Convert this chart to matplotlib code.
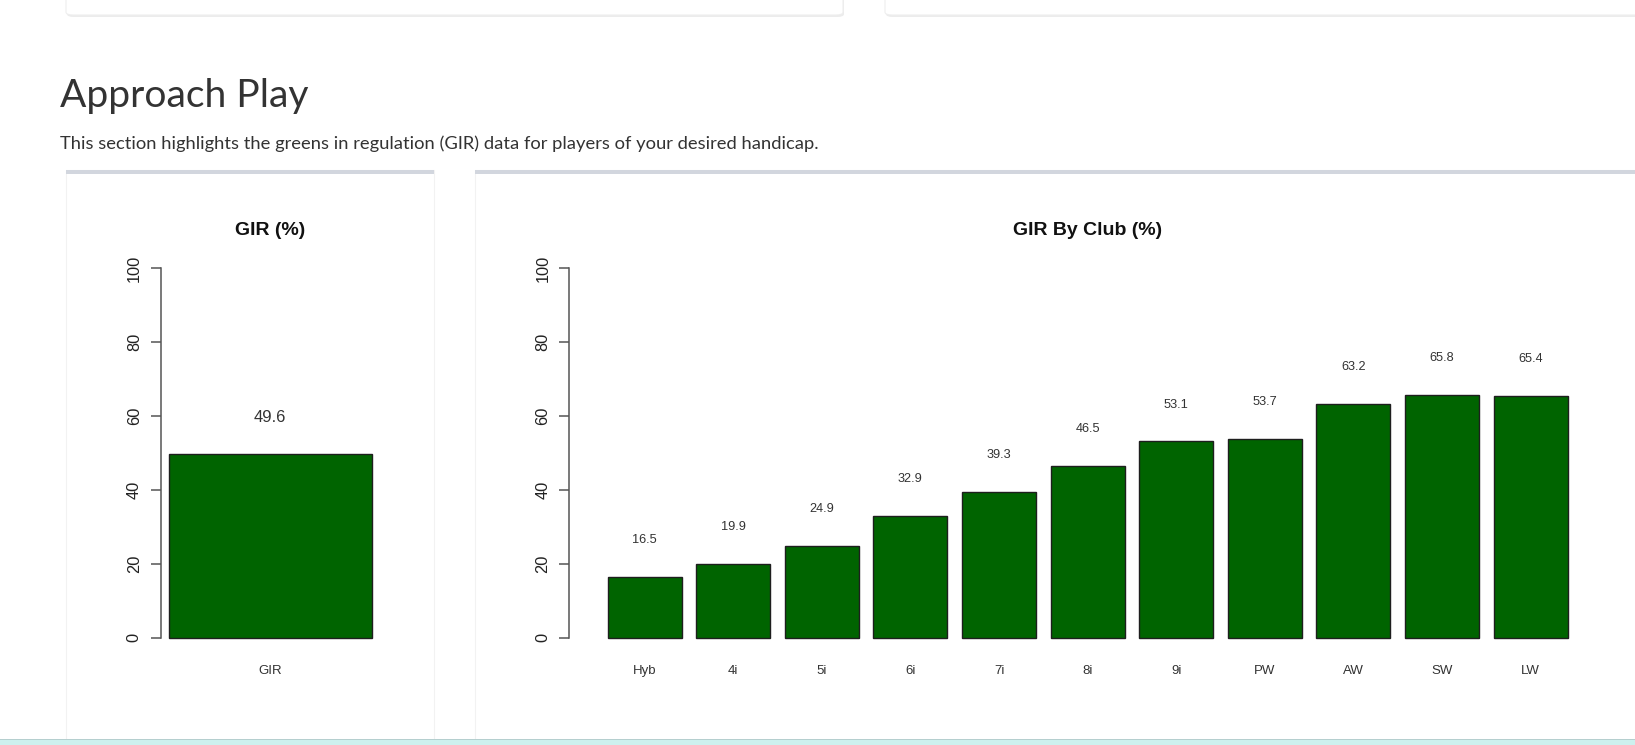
import matplotlib
matplotlib.use('Agg')
import matplotlib.pyplot as plt
from matplotlib.patches import Rectangle, FancyBboxPatch

# Canvas size in pixels
W, H = 1635, 745

# Data
overall_labels = ['GIR']
overall_gir = [49.6]
clubs = ['Hyb', '4i', '5i', '6i', '7i', '8i', '9i', 'PW', 'AW', 'SW', 'LW']
club_gir = [16.5, 19.9, 24.9, 32.9, 39.3, 46.5, 53.1, 53.7, 63.2, 65.8, 65.4]
y_ticks = [0, 20, 40, 60, 80, 100]

# Page colours
TEXT = '#333333'
BAR_GREEN = '#006400'
CARD_EDGE = '#eeeeee'
CARD_TOP = '#d2d6de'
FOOTER = '#cdf0ee'

plt.rcParams['font.family'] = ['Liberation Sans', 'DejaVu Sans']

fig = plt.figure(figsize=(W / 100, H / 100), dpi=100)
fig.patch.set_facecolor('white')


def rect_px(x0, y0, x1, y1):
    # top-left pixel box -> figure fraction [left, bottom, width, height]
    return [x0 / W, 1 - y1 / H, (x1 - x0) / W, (y1 - y0) / H]


def add_box(x0, y0, x1, y1, **kw):
    l, b, w, h = rect_px(x0, y0, x1, y1)
    fig.add_artist(Rectangle((l, b), w, h, transform=fig.transFigure, zorder=-5, **kw))


def add_round(x0, y0, x1, y1, **kw):
    l, b, w, h = rect_px(x0, y0, x1, y1)
    fig.add_artist(FancyBboxPatch((l, b), w, h, transform=fig.transFigure, zorder=-5,
                                  boxstyle='round,pad=0,rounding_size=0.004', **kw))


def fit_text(x, y, s, width_px, **kw):
    t = fig.text(x / W, 1 - y / H, s, **kw)
    r = fig.canvas.get_renderer()
    w = t.get_window_extent(r).width
    t.set_fontsize(t.get_fontsize() * width_px / w)
    return t


# --- page decorations ---
# cards above (cut off by the top edge), with a faint shadow
add_round(67, -30, 844, 17, facecolor='#ececec', edgecolor='none')
add_round(66, -30, 843, 15, facecolor='white', edgecolor=CARD_EDGE, linewidth=0.8)
add_round(886, -30, 1660, 17, facecolor='#ececec', edgecolor='none')
add_round(885, -30, 1660, 15, facecolor='white', edgecolor=CARD_EDGE, linewidth=0.8)

# chart cards
add_box(66, 170, 434, 745, facecolor='white', edgecolor='#f2f2f2', linewidth=0.8)
add_box(66, 170, 434, 174, facecolor=CARD_TOP, edgecolor='none')
add_box(475, 170, 1640, 745, facecolor='white', edgecolor='#f2f2f2', linewidth=0.8)
add_box(475, 170, 1640, 174, facecolor=CARD_TOP, edgecolor='none')

# footer strip
add_box(0, 739, W, 746, facecolor=FOOTER, edgecolor='none')
add_box(0, 739, W, 740, facecolor='#b5cfcf', edgecolor='none')

# heading and intro line
fit_text(60, 107, 'Approach Play', 248, fontsize=28, color=TEXT,
         family=['Lato', 'DejaVu Sans'], va='baseline')
fit_text(60, 149, 'This section highlights the greens in regulation (GIR) data '
         'for players of your desired handicap.', 754, fontsize=12, color=TEXT,
         family=['Lato', 'DejaVu Sans'], va='baseline')

# --- bar charts ---
Y_TOP, Y_BOT = 253.5, 652.3  # pixel rows of the y range -4..104


def bar_panel(x0, x1, labels, values, title, value_size):
    ax = fig.add_axes(rect_px(x0, Y_TOP, x1, Y_BOT))
    ax.set_zorder(5)
    ax.set_facecolor('none')
    n = len(values)
    xs = [0.7 + 1.2 * i for i in range(n)]
    ax.bar(xs, values, width=1.0, color=BAR_GREEN, edgecolor='#1e1e1e', linewidth=1.0)
    for x, v in zip(xs, values):
        ax.text(x, v + 10, f'{v:.1f}', ha='center', va='center',
                fontsize=value_size, color=TEXT)
    span = 1.2 * n - 0.2
    ax.set_xlim(0.2 - 0.04 * span, 1.2 * n + 0.04 * span)
    ax.set_ylim(-4, 104)
    for side in ['top', 'right', 'bottom']:
        ax.spines[side].set_visible(False)
    ax.spines['left'].set_bounds(0, 100)
    ax.spines['left'].set_color('#555555')
    ax.spines['left'].set_linewidth(1.1)
    ax.set_yticks(y_ticks)
    ax.set_yticklabels([str(t) for t in y_ticks], rotation=90, va='center')
    ax.tick_params(axis='y', length=7.5, width=1.1, color='#555555',
                   labelsize=11.8, labelcolor='#222222', pad=6)
    ax.set_xticks(xs)
    ax.set_xticklabels(labels)
    ax.tick_params(axis='x', length=0, labelsize=9.5, labelcolor=TEXT, pad=9)
    ax.set_title(title, fontsize=14, fontweight='bold', color='#111111', pad=13)
    return ax


bar_panel(160.6, 379.8, overall_labels, overall_gir, 'GIR (%)', 12)
bar_panel(569.3, 1605.9, clubs, club_gir, 'GIR By Club (%)', 9.2)

fig.savefig('out.png', dpi=100, facecolor='white')
